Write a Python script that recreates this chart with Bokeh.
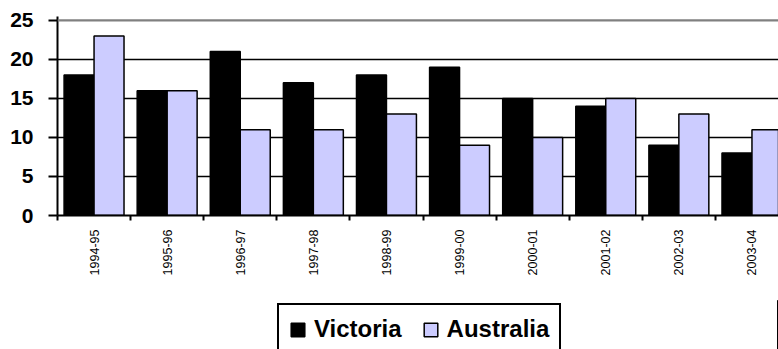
from bokeh.plotting import figure
from bokeh.layouts import column
from bokeh.models import Range1d, FixedTicker, Span, Legend, LegendItem, ColumnDataSource
from bokeh.transform import dodge
from bokeh.embed import file_html
from bokeh.resources import INLINE
import math

categories = ["1994-95", "1995-96", "1996-97", "1997-98", "1998-99",
              "1999-00", "2000-01", "2001-02", "2002-03", "2003-04"]
victoria = [18, 16, 21, 17, 18, 19, 15, 14, 9, 8]
australia = [23, 16, 11, 11, 13, 9, 10, 15, 13, 11]
y_ticks = [0, 5, 10, 15, 20, 25]
series_names = ["Victoria", "Australia"]
series_cols = ["vic", "aus"]
series_colors = ["black", "#CCCCFF"]

centers = [i + 0.5 for i in range(len(categories))]
bounds = [i for i in range(len(categories) + 1)]
source = ColumnDataSource(dict(x=centers, vic=victoria, aus=australia))

FONT = "Liberation Sans"

p = figure(width=778, height=300, x_range=Range1d(0, 9.863), y_range=Range1d(0, 25.5),
           output_backend="svg", toolbar_location=None,
           min_border_left=57, min_border_right=0, min_border_top=16, min_border_bottom=85)
p.outline_line_color = None
p.background_fill_color = "white"

# grid
p.xgrid.visible = False
p.ygrid.ticker = FixedTicker(ticks=[5, 10, 15, 20])
p.ygrid.grid_line_color = "black"
p.ygrid.grid_line_width = 1.6
p.add_layout(Span(location=25, dimension="width", line_color="#808080", line_width=2.2))

for col, color, off in zip(series_cols, series_colors, [-0.205, 0.205]):
    p.vbar(x=dodge("x", off, range=p.x_range), top=col, width=0.41, source=source,
           fill_color=color, line_color="black", line_width=1.5)

# y axis
ya = p.yaxis[0]
ya.ticker = FixedTicker(ticks=y_ticks)
ya.axis_line_color = "black"
ya.axis_line_width = 2
ya.major_tick_line_color = "black"
ya.major_tick_line_width = 2
ya.major_tick_in = 0
ya.major_tick_out = 9
ya.minor_tick_line_color = None
ya.major_label_standoff = 15
ya.major_label_text_font = FONT
ya.major_label_text_font_style = "bold"
ya.major_label_text_font_size = "21px"
ya.major_label_text_color = "black"

# x axis
xa = p.xaxis[0]
xa.ticker = FixedTicker(ticks=centers, minor_ticks=bounds)
xa.major_label_overrides = {c: lab for c, lab in zip(centers, categories)}
xa.axis_line_color = "black"
xa.axis_line_width = 2
xa.major_tick_line_color = None
xa.major_tick_in = 0
xa.major_tick_out = 0
xa.minor_tick_line_color = "black"
xa.minor_tick_line_width = 2
xa.minor_tick_in = 0
xa.minor_tick_out = 5
xa.major_label_standoff = 9
xa.major_label_orientation = math.pi / 2
xa.major_label_text_font = FONT
xa.major_label_text_font_size = "12.5px"
xa.major_label_text_color = "black"

# legend strip below the chart (its frame lines up with the chart's frame)
lg = figure(width=778, height=49, x_range=Range1d(-20, -19), y_range=Range1d(0, 1),
            output_backend="svg", toolbar_location=None,
            x_axis_type=None, y_axis_type=None,
            min_border_left=57, min_border_right=0, min_border_top=0, min_border_bottom=0)
lg.outline_line_color = None
lg.xgrid.visible = False
lg.ygrid.visible = False
items = []
for name, col, color in zip(series_names, series_cols, series_colors):
    r = lg.vbar(x="x", top=col, width=0.41, source=source,
                fill_color=color, line_color="black", line_width=1.5)
    items.append(LegendItem(label=name, renderers=[r]))

legend = Legend(items=items, orientation="horizontal", location=(220, -6))
legend.border_line_color = "black"
legend.border_line_alpha = 1
legend.border_line_width = 2
legend.background_fill_color = "white"
legend.background_fill_alpha = 1
legend.label_text_font = FONT
legend.label_text_font_style = "bold"
legend.label_text_font_size = "24px"
legend.label_text_color = "black"
legend.glyph_width = 17
legend.glyph_height = 17
legend.label_standoff = 8
legend.spacing = 20
legend.padding = 10
legend.margin = 0
lg.add_layout(legend)

layout = column(p, lg, spacing=0)
open("out.html", "w").write(file_html(layout, INLINE))
